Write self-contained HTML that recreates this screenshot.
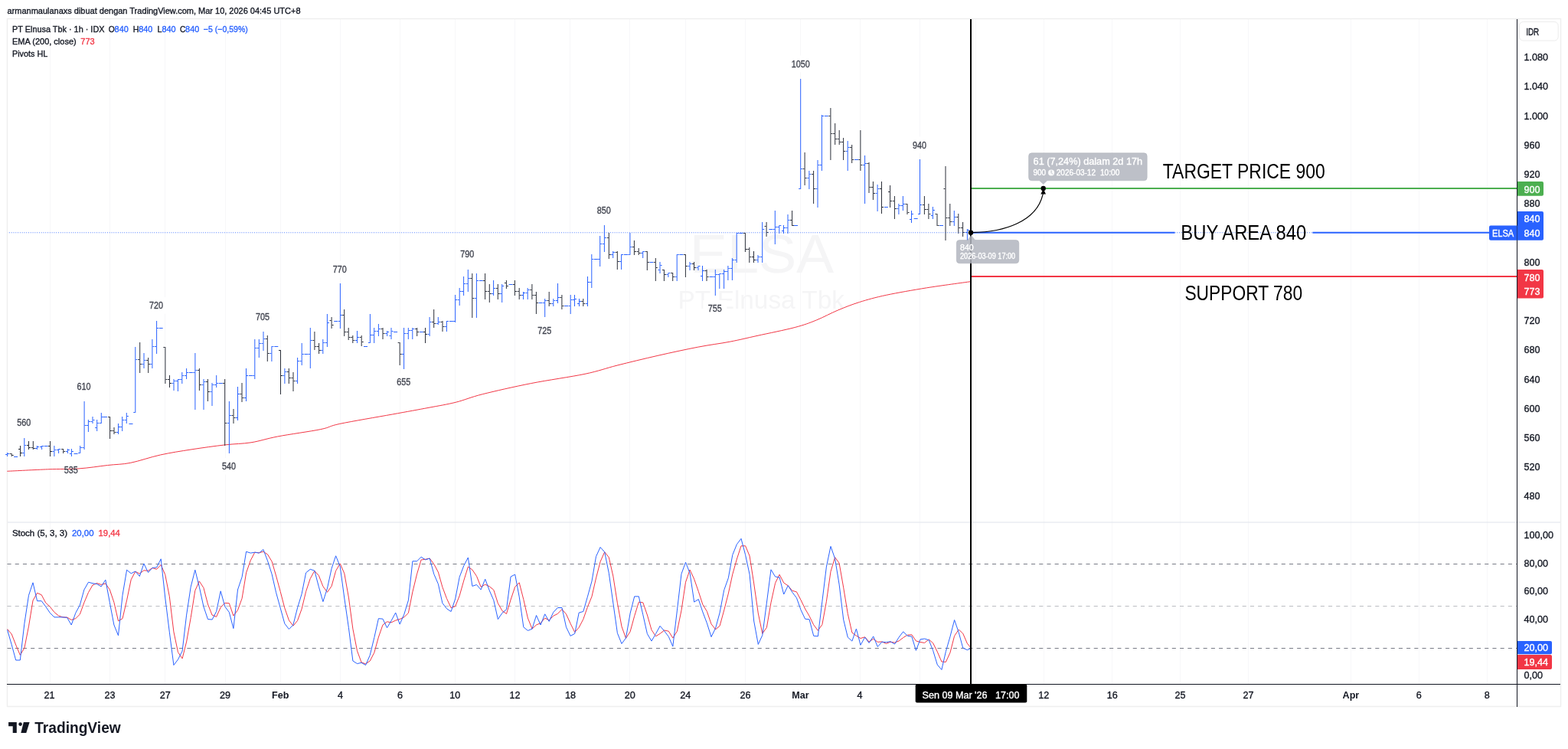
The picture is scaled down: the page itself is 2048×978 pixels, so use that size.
<!DOCTYPE html><html><head><meta charset="utf-8"><title>ELSA chart</title><style>
html,body{margin:0;padding:0;background:#fff;}body{width:2048px;height:978px;overflow:hidden;}svg{display:block;}
text{font-family:"Liberation Sans", Arial, sans-serif;}
.b{stroke-width:0.35px;paint-order:stroke;}
</style></head><body>
<svg width="2048" height="978" viewBox="0 0 2048 978">
<rect x="0" y="0" width="2048" height="978" fill="#ffffff"/>
<path d="M65.5 25V893 M143.5 25V893 M215.5 25V893 M294.5 25V893 M366.5 25V893 M444.5 25V893 M522.5 25V893 M594.5 25V893 M672.5 25V893 M744.5 25V893 M822.5 25V893 M895.5 25V893 M973.5 25V893 M1045.5 25V893 M1123.5 25V893 M1201.5 25V893 M1274.5 25V893 M1363.5 25V893 M1452.5 25V893 M1541.5 25V893 M1630.5 25V893 M1764.5 25V893 M1853.5 25V893 M1942.5 25V893" stroke="#f7f7f9" stroke-width="1" fill="none" shape-rendering="crispEdges"/>
<text x="900.8" y="355.5" font-size="70.7" fill="#f5f5f6" textLength="188.5" lengthAdjust="spacingAndGlyphs">ELSA</text>
<text x="885.4" y="402.5" font-size="32.7" fill="#f5f5f6" textLength="217.5" lengthAdjust="spacingAndGlyphs">PT Elnusa Tbk</text>
<rect x="15.8" y="541.0" width="31.0" height="21.8" fill="#fff"/>
<rect x="77.3" y="602.9" width="31.0" height="21.8" fill="#fff"/>
<rect x="93.9" y="493.8" width="31.0" height="21.8" fill="#fff"/>
<rect x="188.5" y="387.9" width="31.0" height="21.8" fill="#fff"/>
<rect x="283.5" y="597.9" width="31.0" height="21.8" fill="#fff"/>
<rect x="327.6" y="402.9" width="31.0" height="21.8" fill="#fff"/>
<rect x="428.3" y="340.7" width="31.0" height="21.8" fill="#fff"/>
<rect x="511.7" y="487.5" width="31.0" height="21.8" fill="#fff"/>
<rect x="594.8" y="321.0" width="31.0" height="21.8" fill="#fff"/>
<rect x="695.7" y="420.5" width="31.0" height="21.8" fill="#fff"/>
<rect x="773.2" y="263.7" width="31.0" height="21.8" fill="#fff"/>
<rect x="918.3" y="392.0" width="31.0" height="21.8" fill="#fff"/>
<rect x="1027.2" y="72.5" width="37.0" height="21.8" fill="#fff"/>
<rect x="1185.6" y="178.4" width="31.0" height="21.8" fill="#fff"/>
<path d="M9 24.5H2039M9.5 24V923M2038.5 24V923M9 922.5H2039" stroke="#efefef" stroke-width="1.5" fill="none"/>
<path d="M10 682H2038" stroke="#e0e3eb" stroke-width="1.2" fill="none"/>
<path d="M9.5 736.5H1981M9.5 846.5H1981" stroke="#787B86" stroke-width="1" stroke-dasharray="5.1,5.11" fill="none"/>
<path d="M9.5 791.5H1981" stroke="#787B86" stroke-opacity="0.5" stroke-width="1" stroke-dasharray="5.1,5.11" fill="none"/>
<path d="M9.4 615.3C18.2 614.9 46.9 613.4 62.5 612.8C78.1 612.2 90.0 612.8 103.0 611.9C116.0 611.0 129.4 608.8 140.6 607.5C151.8 606.2 158.8 606.6 170.3 604.4C181.8 602.1 196.1 596.9 209.4 594.0C222.7 591.1 235.9 589.1 250.0 586.9C264.1 584.7 280.8 582.4 293.8 580.9C306.8 579.4 316.6 579.6 328.0 577.8C339.4 576.0 347.4 572.9 362.5 570.0C377.6 567.1 405.2 563.4 418.8 560.6C432.4 557.8 428.2 556.7 443.8 553.4C459.4 550.1 493.1 544.5 512.5 541.0C531.9 537.5 546.2 534.9 560.0 532.3C573.8 529.7 583.5 528.2 595.2 525.3C606.9 522.4 613.9 518.8 630.3 514.7C646.7 510.6 671.3 505.0 693.6 500.6C715.9 496.2 745.3 492.2 764.0 488.3C782.7 484.4 790.2 481.1 806.0 477.1C821.8 473.1 841.3 468.4 858.9 464.4C876.5 460.4 895.8 456.2 911.6 453.2C927.4 450.1 940.9 448.6 953.8 446.1C966.7 443.6 974.9 441.5 989.0 438.4C1003.1 435.3 1025.3 430.9 1038.2 427.5C1051.1 424.1 1056.9 421.8 1066.3 418.0C1075.7 414.2 1085.1 408.9 1094.5 405.0C1103.9 401.1 1112.1 397.8 1122.6 394.5C1133.1 391.2 1143.0 388.4 1157.7 385.3C1172.4 382.2 1192.1 378.8 1210.5 375.8C1228.9 372.9 1258.4 369.0 1268.0 367.6" stroke="#F23645" stroke-width="1" fill="none"/>
<path d="M15.2 592V596 M12.7 592.5H14.7 M15.7 594.5H17.7 M26.5 582V596 M24.0 586.5H26.0 M27.0 591.5H29.0 M37.5 576V587 M35.0 581.5H37.0 M38.0 584.5H40.0 M43.3 576V587 M40.8 584.5H42.8 M43.8 585.5H45.8 M65.5 576V596 M63.0 582.5H65.0 M66.0 589.5H68.0 M82.7 586V592 M80.2 586.5H82.2 M83.2 589.5H85.2 M143.6 544V573 M141.1 544.5H143.1 M144.1 562.5H146.1 M149.0 558V567 M146.5 562.5H148.5 M149.5 564.5H151.5 M182.7 447V487 M180.2 469.5H182.2 M183.2 475.5H185.2 M193.7 467V487 M191.2 470.5H193.2 M194.2 475.5H196.2 M215.9 453V501 M213.4 453.5H215.4 M216.4 495.5H218.4 M221.5 490V506 M219.0 495.5H221.0 M222.0 500.5H224.0 M260.4 481V510 M257.9 483.5H259.9 M260.9 502.5H262.9 M271.4 495V524 M268.9 498.5H270.9 M271.9 511.5H273.9 M293.7 495V582 M291.2 500.5H293.2 M294.2 552.5H296.2 M305.0 534V553 M302.5 542.5H304.5 M305.5 545.5H307.5 M316.0 500V525 M313.5 514.5H315.5 M316.5 519.5H318.5 M349.3 438V472 M346.8 442.5H348.8 M349.8 461.5H351.8 M366.5 457V515 M364.0 457.5H366.0 M367.0 490.5H369.0 M377.3 481V501 M374.8 485.5H376.8 M377.8 493.5H379.8 M383.0 486V511 M380.5 493.5H382.5 M383.5 497.5H385.5 M410.9 433V457 M408.4 444.5H410.4 M411.4 452.5H413.4 M416.6 448V462 M414.1 452.5H416.1 M417.1 457.5H419.1 M433.1 414V429 M430.6 418.5H432.6 M433.6 424.5H435.6 M449.7 404V439 M447.2 411.5H449.2 M450.2 433.5H452.2 M455.2 428V444 M452.7 433.5H454.7 M455.7 440.5H457.7 M460.8 438V448 M458.3 440.5H460.3 M461.3 444.5H463.3 M472.2 438V452 M469.7 440.5H471.7 M472.7 446.5H474.7 M500.0 428V443 M497.5 429.5H499.5 M500.5 435.5H502.5 M522.2 447V477 M519.7 447.5H521.7 M522.7 462.5H524.7 M544.7 428V439 M542.2 429.5H544.2 M545.2 433.5H547.2 M555.5 428V448 M553.0 433.5H555.0 M556.0 436.5H558.0 M566.7 404V428 M564.2 420.5H566.2 M567.2 422.5H569.2 M578.0 419V433 M575.5 420.5H577.5 M578.5 426.5H580.5 M616.8 357V415 M614.3 363.5H616.3 M617.3 389.5H619.3 M633.6 357V391 M631.1 366.5H633.1 M634.1 380.5H636.1 M639.3 371V395 M636.8 380.5H638.8 M639.8 383.5H641.8 M650.3 371V391 M647.8 376.5H649.8 M650.8 383.5H652.8 M661.4 366V377 M658.9 369.5H660.9 M661.9 373.5H663.9 M672.4 366V386 M669.9 371.5H671.9 M672.9 380.5H674.9 M678.2 376V391 M675.7 380.5H677.7 M678.7 385.5H680.7 M694.9 371V391 M692.4 378.5H694.4 M695.4 385.5H697.4 M700.4 381V410 M697.9 385.5H699.9 M700.9 395.5H702.9 M717.2 381V400 M714.7 392.5H716.7 M717.7 396.5H719.7 M733.9 385V404 M731.4 388.5H733.4 M734.4 399.5H736.4 M761.8 390V400 M759.3 393.5H761.3 M762.3 396.5H764.3 M795.3 304V338 M792.8 310.5H794.8 M795.8 332.5H797.8 M806.3 328V352 M803.8 329.5H805.8 M806.8 341.5H808.8 M828.4 314V333 M825.9 322.5H827.9 M828.9 328.5H830.9 M834.2 324V333 M831.7 328.5H833.7 M834.7 330.5H836.7 M845.3 328V353 M842.8 328.5H844.8 M845.8 342.5H847.8 M856.3 337V367 M853.8 342.5H855.8 M856.8 349.5H858.8 M867.4 352V367 M864.9 352.5H866.9 M867.9 358.5H869.9 M878.7 356V367 M876.2 356.5H878.2 M879.2 361.5H881.2 M895.4 332V362 M892.9 332.5H894.9 M895.9 347.5H897.9 M906.5 342V353 M904.0 344.5H906.0 M907.0 349.5H909.0 M923.0 352V367 M920.5 353.5H922.5 M923.5 361.5H925.5 M973.4 304V329 M970.9 304.5H972.9 M973.9 325.5H975.9 M978.8 323V343 M976.3 325.5H978.3 M979.3 335.5H981.3 M984.5 328V343 M982.0 335.5H984.0 M985.0 339.5H987.0 M1001.1 290V309 M998.6 295.5H1000.6 M1001.6 303.5H1003.6 M1034.6 275V295 M1032.1 287.5H1034.1 M1035.1 294.5H1037.1 M1051.1 199V242 M1048.6 220.5H1050.6 M1051.6 232.5H1053.6 M1062.6 223V266 M1060.1 227.5H1062.1 M1063.1 246.5H1065.1 M1084.9 141V209 M1082.4 151.5H1084.4 M1085.4 174.5H1087.4 M1090.7 161V189 M1088.2 174.5H1090.2 M1091.2 181.5H1093.2 M1096.2 170V189 M1093.7 181.5H1095.7 M1096.7 185.5H1098.7 M1101.6 180V209 M1099.1 185.5H1101.1 M1102.1 197.5H1104.1 M1112.7 189V213 M1110.2 192.5H1112.2 M1113.2 208.5H1115.2 M1123.9 170V223 M1121.4 208.5H1123.4 M1124.4 215.5H1126.4 M1135.0 212V252 M1132.5 213.5H1134.5 M1135.5 244.5H1137.5 M1140.4 237V261 M1137.9 244.5H1139.9 M1140.9 252.5H1142.9 M1151.5 237V279 M1149.0 246.5H1151.0 M1152.0 270.5H1154.0 M1162.6 242V271 M1160.1 250.5H1162.1 M1163.1 262.5H1165.1 M1168.4 256V286 M1165.9 262.5H1167.9 M1168.9 272.5H1170.9 M1185.0 266V280 M1182.5 266.5H1184.5 M1185.5 277.5H1187.5 M1207.4 256V280 M1204.9 267.5H1206.9 M1207.9 273.5H1209.9 M1212.9 266V286 M1210.4 273.5H1212.4 M1213.4 279.5H1215.4 M1224.0 279V295 M1221.5 279.5H1223.5 M1224.5 294.5H1226.5 M1235.0 217V314 M1232.5 246.5H1234.5 M1235.5 284.5H1237.5 M1240.8 266V295 M1238.3 284.5H1240.3 M1241.3 289.5H1243.3 M1251.8 279V305 M1249.3 283.5H1251.3 M1252.3 297.5H1254.3 M1257.6 290V309 M1255.1 297.5H1257.1 M1258.1 303.5H1260.1" stroke="#2a2e39" stroke-width="1" fill="none"/>
<path d="M9.6 591V596 M7.1 593.5H9.1 M10.1 592.5H12.1 M18.1 596.5H23.1 M31.8 572V596 M29.3 591.5H31.3 M32.3 581.5H34.3 M48.4 582V587 M45.9 585.5H47.9 M48.9 583.5H50.9 M54.6 582V587 M52.1 583.5H54.1 M55.1 582.5H57.1 M57.7 582.5H62.7 M70.9 582V596 M68.4 589.5H70.4 M71.4 587.5H73.4 M76.6 586V592 M74.1 587.5H76.1 M77.1 586.5H79.1 M88.4 586V592 M85.9 589.5H87.9 M88.9 587.5H90.9 M93.4 586V596 M90.9 592.5H92.9 M93.9 589.5H95.9 M96.5 592.5H101.5 M104.7 582V592 M102.2 591.5H104.2 M105.2 584.5H107.2 M110.1 524V587 M107.6 584.5H109.6 M110.6 555.5H112.6 M115.4 548V564 M112.9 555.5H114.9 M115.9 550.5H117.9 M121.0 544V553 M118.5 550.5H120.5 M121.5 548.5H123.5 M126.7 548V563 M124.2 558.5H126.2 M127.2 552.5H129.2 M132.3 539V553 M129.8 552.5H131.8 M132.8 544.5H134.8 M135.0 544.5H140.0 M154.5 553V567 M152.0 564.5H154.0 M155.0 557.5H157.0 M159.7 544V563 M157.2 557.5H159.2 M160.2 548.5H162.2 M165.3 539V553 M162.8 548.5H164.8 M165.8 543.5H167.8 M168.5 553.5H173.5 M176.8 453V539 M174.3 538.5H176.3 M177.3 469.5H179.3 M188.0 461V481 M185.5 475.5H187.5 M188.5 470.5H190.5 M198.9 443V481 M196.4 475.5H198.4 M199.4 452.5H201.4 M204.6 419V462 M202.1 452.5H204.1 M205.1 428.5H207.1 M207.7 428.5H212.7 M227.0 495V510 M224.5 500.5H226.5 M227.5 497.5H229.5 M232.4 495V511 M229.9 497.5H231.9 M232.9 495.5H234.9 M237.8 486V501 M235.3 495.5H237.3 M238.3 490.5H240.3 M243.6 481V495 M241.1 490.5H243.1 M244.1 486.5H246.1 M246.8 486.5H251.8 M254.9 461V535 M252.4 486.5H254.4 M255.4 483.5H257.4 M266.0 495V535 M263.5 502.5H265.5 M266.5 498.5H268.5 M277.0 500V530 M274.5 511.5H276.5 M277.5 502.5H279.5 M282.7 490V506 M280.2 502.5H282.2 M283.2 500.5H285.2 M285.8 500.5H290.8 M299.4 524V592 M296.9 552.5H298.9 M299.9 542.5H301.9 M310.5 505V549 M308.0 545.5H310.0 M311.0 514.5H313.0 M321.5 481V524 M319.0 519.5H321.0 M322.0 490.5H324.0 M324.9 490.5H329.9 M332.8 443V495 M330.3 490.5H332.3 M333.3 454.5H335.3 M338.3 443V467 M335.8 454.5H337.8 M338.8 448.5H340.8 M344.0 433V458 M341.5 448.5H343.5 M344.5 442.5H346.5 M354.9 452V472 M352.4 461.5H354.4 M355.4 452.5H357.4 M358.3 452.5H363.3 M371.9 481V501 M369.4 490.5H371.4 M372.4 485.5H374.4 M388.6 467V501 M386.1 497.5H388.1 M389.1 471.5H391.1 M394.2 448V477 M391.7 471.5H393.7 M394.7 462.5H396.7 M397.5 462.5H402.5 M405.3 428V481 M402.8 462.5H404.8 M405.8 444.5H407.8 M421.8 443V462 M419.3 457.5H421.3 M422.3 447.5H424.3 M427.4 410V453 M424.9 447.5H426.9 M427.9 421.5H429.9 M436.2 419.5H441.2 M444.4 370V429 M441.9 419.5H443.9 M444.9 411.5H446.9 M466.5 432V448 M464.0 444.5H466.0 M467.0 440.5H469.0 M475.0 452.5H480.0 M483.4 410V448 M480.9 447.5H482.9 M483.9 437.5H485.9 M488.7 428V448 M486.2 437.5H488.2 M489.2 432.5H491.2 M494.4 423V439 M491.9 432.5H493.9 M494.9 429.5H496.9 M505.7 432V439 M503.2 435.5H505.2 M506.2 433.5H508.2 M511.0 428V443 M508.5 438.5H510.5 M511.5 432.5H513.5 M514.1 433.5H519.1 M527.6 428V482 M525.1 462.5H527.1 M528.1 435.5H530.1 M533.3 428V443 M530.8 435.5H532.8 M533.8 431.5H535.8 M538.8 428V443 M536.3 431.5H538.3 M539.3 429.5H541.3 M547.9 433.5H552.9 M561.1 414V439 M558.6 436.5H560.6 M561.6 420.5H563.6 M572.3 414V424 M569.8 422.5H571.8 M572.8 420.5H574.8 M583.4 419V433 M580.9 426.5H582.9 M583.9 419.5H585.9 M586.9 419.5H591.9 M594.6 385V421 M592.1 419.5H594.1 M595.1 391.5H597.1 M600.2 376V399 M597.7 391.5H599.7 M600.7 380.5H602.7 M605.6 361V386 M603.1 380.5H605.1 M606.1 370.5H608.1 M611.3 352V381 M608.8 370.5H610.8 M611.8 363.5H613.8 M622.4 357V415 M619.9 389.5H621.9 M622.9 366.5H624.9 M625.8 366.5H630.8 M644.6 366V386 M642.1 383.5H644.1 M645.1 376.5H647.1 M655.7 371V395 M653.2 383.5H655.2 M656.2 373.5H658.2 M664.6 371.5H669.6 M683.5 381V391 M681.0 385.5H683.0 M684.0 382.5H686.0 M689.2 376V391 M686.7 382.5H688.7 M689.7 378.5H691.7 M703.5 395.5H708.5 M711.7 390V414 M709.2 395.5H711.2 M712.2 392.5H714.2 M722.8 390V400 M720.3 396.5H722.3 M723.3 392.5H725.3 M728.5 370V396 M726.0 392.5H728.0 M729.0 388.5H731.0 M737.1 399.5H742.1 M745.2 385V410 M742.7 399.5H744.7 M745.7 391.5H747.7 M750.5 385V400 M748.0 391.5H750.0 M751.0 390.5H753.0 M756.5 390V400 M754.0 396.5H756.0 M757.0 393.5H759.0 M767.5 361V400 M765.0 396.5H767.0 M768.0 368.5H770.0 M772.8 332V376 M770.3 368.5H772.3 M773.3 338.5H775.3 M775.9 338.5H780.9 M783.7 308V348 M781.2 338.5H783.2 M784.2 318.5H786.2 M789.4 294V329 M786.9 318.5H788.9 M789.9 310.5H791.9 M800.7 328V337 M798.2 332.5H800.2 M801.2 329.5H803.2 M811.6 332V352 M809.1 341.5H811.1 M812.1 332.5H814.1 M814.9 332.5H819.9 M822.9 304V333 M820.4 332.5H822.4 M823.4 322.5H825.4 M839.7 328V337 M837.2 330.5H839.2 M840.2 328.5H842.2 M848.3 342.5H853.3 M862.0 342V357 M859.5 352.5H861.5 M862.5 346.5H864.5 M872.9 356V362 M870.4 358.5H872.4 M873.4 356.5H875.4 M884.2 332V367 M881.7 361.5H883.7 M884.7 332.5H886.7 M887.4 332.5H892.4 M901.0 342V353 M898.5 347.5H900.5 M901.5 344.5H903.5 M912.0 347V353 M909.5 349.5H911.5 M912.5 347.5H914.5 M917.5 347V367 M915.0 360.5H917.0 M918.0 353.5H920.0 M926.5 361.5H931.5 M934.3 352V386 M931.8 361.5H933.8 M934.8 358.5H936.8 M939.8 357V377 M937.3 358.5H939.3 M940.3 357.5H942.3 M945.6 352V377 M943.1 357.5H945.1 M946.1 354.5H948.1 M950.9 347V366 M948.4 354.5H950.4 M951.4 350.5H953.4 M956.4 337V366 M953.9 350.5H955.9 M956.9 339.5H958.9 M962.2 304V343 M959.7 339.5H961.7 M962.7 304.5H964.7 M965.4 304.5H970.4 M990.0 333V343 M987.5 339.5H989.5 M990.5 335.5H992.5 M995.7 290V343 M993.2 335.5H995.2 M996.2 299.5H998.2 M1004.4 299.5H1009.4 M1012.3 275V319 M1009.8 299.5H1011.8 M1012.8 296.5H1014.8 M1017.8 294V305 M1015.3 296.5H1017.3 M1018.3 294.5H1020.3 M1023.5 294V305 M1021.0 301.5H1023.0 M1024.0 297.5H1026.0 M1029.0 280V305 M1026.5 297.5H1028.5 M1029.5 287.5H1031.5 M1037.0 294.5H1042.0 M1045.7 103V247 M1043.2 246.5H1045.2 M1046.2 220.5H1048.2 M1056.9 223V247 M1054.4 232.5H1056.4 M1057.4 227.5H1059.4 M1068.0 209V271 M1065.5 246.5H1067.5 M1068.5 215.5H1070.5 M1073.4 150V223 M1070.9 215.5H1072.9 M1073.9 151.5H1075.9 M1076.8 151.5H1081.8 M1107.2 184V223 M1104.7 197.5H1106.7 M1107.7 192.5H1109.7 M1116.0 208.5H1121.0 M1129.6 203V266 M1127.1 215.5H1129.1 M1130.1 213.5H1132.1 M1146.1 241V276 M1143.6 252.5H1145.6 M1146.6 246.5H1148.6 M1154.9 270.5H1159.9 M1173.9 266V280 M1171.4 272.5H1173.4 M1174.4 268.5H1176.4 M1179.4 256V275 M1176.9 268.5H1178.9 M1179.9 266.5H1181.9 M1190.5 275V291 M1188.0 286.5H1190.0 M1191.0 279.5H1193.0 M1193.7 285.5H1198.7 M1201.5 208V280 M1199.0 279.5H1201.0 M1202.0 267.5H1204.0 M1218.4 270V286 M1215.9 281.5H1217.9 M1218.9 274.5H1220.9 M1227.0 294.5H1232.0 M1246.3 275V295 M1243.8 289.5H1245.8 M1246.8 283.5H1248.8 M1263.4 299V314 M1260.9 303.5H1262.9 M1263.9 300.5H1265.9" stroke="#2962FF" stroke-width="1" fill="none"/>
<path d="M10 303.75H1268" stroke="#2962FF" stroke-width="1" stroke-dasharray="1,1.784" stroke-dashoffset="0.844" stroke-opacity="0.8" fill="none"/>
<polyline points="9.6,821.5 15.2,828.0 20.7,842.1 26.3,855.3 31.9,846.1 37.5,817.8 43.0,784.1 48.6,774.3 54.2,776.7 59.7,787.1 65.3,792.3 70.9,799.4 76.5,804.0 82.0,805.9 87.6,806.1 93.2,809.4 98.8,807.6 104.3,802.2 109.9,786.8 115.5,773.5 121.0,764.0 126.6,761.5 132.2,763.4 137.8,761.9 143.3,769.8 148.9,786.5 154.5,810.8 160.0,807.7 165.6,783.8 171.2,756.8 176.8,746.3 182.3,749.1 187.9,744.8 193.5,745.3 199.0,741.6 204.6,743.3 210.2,737.4 215.8,750.6 221.3,778.7 226.9,824.9 232.5,851.6 238.1,859.9 243.6,838.1 249.2,806.5 254.8,771.2 260.3,758.9 265.9,767.5 271.5,789.0 277.1,803.2 282.6,805.4 288.2,793.1 293.8,787.4 299.3,787.7 304.9,804.0 310.5,796.7 316.1,781.3 321.6,747.9 327.2,731.9 332.8,721.2 338.3,721.8 343.9,720.3 349.5,723.9 355.1,733.1 360.6,751.9 366.2,772.4 371.8,793.9 377.4,809.9 382.9,817.2 388.5,810.5 394.1,795.1 399.6,772.4 405.2,755.6 410.8,745.4 416.4,751.6 421.9,765.7 427.5,773.3 433.1,765.3 438.6,745.4 444.2,735.9 449.8,748.8 455.4,780.1 460.9,821.2 466.5,849.8 472.1,865.0 477.6,866.8 483.2,863.1 488.8,852.2 494.4,832.0 499.9,816.1 505.5,811.8 511.1,812.8 516.7,810.1 522.2,808.5 527.8,805.8 533.4,800.4 538.9,772.9 544.5,749.8 550.1,731.0 555.7,730.3 561.2,729.1 566.8,736.6 572.4,747.1 577.9,766.6 583.5,781.6 589.1,793.6 594.7,791.7 600.2,777.9 605.8,758.0 611.4,740.0 616.9,744.0 622.5,752.3 628.1,766.3 633.7,763.2 639.2,765.7 644.8,770.3 650.4,787.8 656.0,797.6 661.5,801.5 667.1,783.0 672.7,766.3 678.2,760.8 683.8,782.7 689.4,807.1 695.0,821.1 700.5,816.0 706.1,813.6 711.7,807.1 717.2,809.7 722.8,804.2 728.4,801.4 734.0,795.5 739.5,801.9 745.1,814.2 750.7,825.5 756.2,819.3 761.8,808.6 767.4,792.6 773.0,778.9 778.5,754.9 784.1,733.4 789.7,720.7 795.3,727.9 800.8,752.1 806.4,787.4 812.0,818.1 817.5,833.4 823.1,824.8 828.7,804.3 834.3,786.2 839.8,786.8 845.4,803.0 851.0,822.5 856.5,830.8 862.1,827.4 867.7,823.0 873.3,824.2 878.8,833.1 884.4,824.2 890.0,796.9 895.5,760.2 901.1,744.0 906.7,756.2 912.3,772.3 917.8,789.2 923.4,798.4 929.0,814.8 934.6,821.9 940.1,817.3 945.7,796.9 951.3,775.1 956.8,749.9 962.4,730.0 968.0,712.8 973.6,712.8 979.1,726.0 984.7,761.9 990.3,800.9 995.8,827.3 1001.4,819.3 1007.0,786.8 1012.6,761.3 1018.1,750.2 1023.7,761.0 1029.3,764.8 1034.8,771.3 1040.4,772.8 1046.0,783.4 1051.6,795.0 1057.1,804.4 1062.7,815.8 1068.3,823.3 1073.9,815.5 1079.4,785.4 1085.0,746.2 1090.6,727.7 1096.1,735.3 1101.7,767.2 1107.3,801.4 1112.9,826.1 1118.4,830.1 1124.0,833.5 1129.6,831.8 1135.1,838.0 1140.7,834.2 1146.3,838.3 1151.9,837.9 1157.4,840.4 1163.0,838.2 1168.6,839.1 1174.1,836.9 1179.7,832.6 1185.3,829.1 1190.9,828.8 1196.4,836.9 1202.0,838.5 1207.6,839.4 1213.2,834.9 1218.7,839.8 1224.3,851.1 1229.9,864.0 1235.4,864.4 1241.0,852.1 1246.6,830.4 1252.2,822.1 1257.7,827.1 1263.3,840.1 1268.9,847.0" stroke="#F23645" stroke-width="1" fill="none" stroke-linejoin="round"/>
<polyline points="9.6,822.4 15.2,841.8 20.7,862.0 26.3,862.0 31.9,814.2 37.5,777.3 43.0,760.8 48.6,784.7 54.2,784.7 59.7,792.0 65.3,800.3 70.9,805.9 76.5,805.9 82.0,805.9 87.6,806.4 93.2,816.0 98.8,800.3 104.3,790.2 109.9,770.0 115.5,760.2 121.0,761.7 126.6,762.6 132.2,765.9 137.8,757.1 143.3,786.5 148.9,816.0 154.5,829.8 160.0,777.3 165.6,744.2 171.2,748.8 176.8,746.0 182.3,752.5 187.9,735.9 193.5,747.5 199.0,741.4 204.6,740.9 210.2,729.8 215.8,781.0 221.3,825.2 226.9,868.5 232.5,861.1 238.1,850.1 243.6,803.1 249.2,766.3 254.8,744.2 260.3,766.3 265.9,792.0 271.5,808.6 277.1,809.0 282.6,798.5 288.2,771.8 293.8,792.0 299.3,799.4 304.9,820.6 310.5,770.0 316.1,753.4 321.6,720.3 327.2,722.1 332.8,721.2 338.3,722.1 343.9,717.5 349.5,732.2 355.1,749.7 360.6,773.7 366.2,793.9 371.8,814.2 377.4,821.5 382.9,816.0 388.5,793.9 394.1,775.5 399.6,747.9 405.2,743.3 410.8,745.1 416.4,766.3 421.9,785.6 427.5,768.1 433.1,742.3 438.6,725.8 444.2,739.6 449.8,781.0 455.4,819.7 460.9,863.0 466.5,866.6 472.1,865.3 477.6,868.5 483.2,855.6 488.8,832.6 494.4,807.7 499.9,808.1 505.5,819.7 511.1,810.5 516.7,800.0 522.2,815.1 527.8,802.2 533.4,783.8 538.9,732.8 544.5,732.8 550.1,727.3 555.7,730.9 561.2,729.1 566.8,749.7 572.4,762.6 577.9,787.5 583.5,794.8 589.1,798.5 594.7,781.9 600.2,753.4 605.8,738.7 611.4,728.0 616.9,765.4 622.5,763.5 628.1,770.0 633.7,756.2 639.2,770.9 644.8,783.8 650.4,808.6 656.0,800.3 661.5,795.7 667.1,753.0 672.7,750.1 678.2,779.2 683.8,818.8 689.4,823.4 695.0,821.2 700.5,803.5 706.1,816.0 711.7,801.8 717.2,811.4 722.8,799.4 728.4,793.5 734.0,793.5 739.5,818.8 745.1,830.4 750.7,827.4 756.2,800.0 761.8,798.5 767.4,779.2 773.0,758.9 778.5,726.7 784.1,714.5 789.7,720.8 795.3,748.4 800.8,787.1 806.4,826.7 812.0,840.5 817.5,833.1 823.1,800.9 828.7,778.8 834.3,778.8 839.8,802.7 845.4,827.6 851.0,837.1 856.5,827.6 862.1,817.4 867.7,823.9 873.3,831.3 878.8,844.1 884.4,797.2 890.0,749.3 895.5,734.2 901.1,748.4 906.7,786.1 912.3,782.5 917.8,799.0 923.4,813.8 929.0,831.6 934.6,820.2 940.1,800.0 945.7,770.5 951.3,754.8 956.8,724.5 962.4,710.7 968.0,703.3 973.6,724.5 979.1,750.2 984.7,811.0 990.3,841.4 995.8,829.4 1001.4,787.1 1007.0,743.8 1012.6,753.0 1018.1,753.9 1023.7,776.0 1029.3,764.6 1034.8,773.3 1040.4,780.6 1046.0,796.3 1051.6,808.2 1057.1,808.8 1062.7,830.3 1068.3,830.9 1073.9,785.2 1079.4,740.1 1085.0,713.4 1090.6,729.5 1096.1,763.1 1101.7,809.1 1107.3,832.1 1112.9,837.1 1118.4,821.1 1124.0,842.3 1129.6,832.1 1135.1,839.5 1140.7,830.9 1146.3,844.5 1151.9,838.2 1157.4,838.6 1163.0,837.7 1168.6,841.0 1174.1,832.1 1179.7,824.8 1185.3,830.3 1190.9,831.2 1196.4,849.3 1202.0,834.9 1207.6,834.0 1213.2,835.8 1218.7,849.6 1224.3,868.0 1229.9,874.5 1235.4,850.6 1241.0,831.2 1246.6,809.5 1252.2,825.7 1257.7,846.0 1263.3,848.7 1268.9,846.3" stroke="#2962FF" stroke-width="1" fill="none" stroke-linejoin="round"/>
<text x="31.3" y="556.2" font-size="12" fill="#434651" text-anchor="middle" textLength="18.0" lengthAdjust="spacingAndGlyphs" class="b" stroke="#434651">560</text>
<text x="92.8" y="618.1" font-size="12" fill="#434651" text-anchor="middle" textLength="18.0" lengthAdjust="spacingAndGlyphs" class="b" stroke="#434651">535</text>
<text x="109.4" y="509.0" font-size="12" fill="#434651" text-anchor="middle" textLength="18.0" lengthAdjust="spacingAndGlyphs" class="b" stroke="#434651">610</text>
<text x="204.0" y="403.1" font-size="12" fill="#434651" text-anchor="middle" textLength="18.0" lengthAdjust="spacingAndGlyphs" class="b" stroke="#434651">720</text>
<text x="299.0" y="613.1" font-size="12" fill="#434651" text-anchor="middle" textLength="18.0" lengthAdjust="spacingAndGlyphs" class="b" stroke="#434651">540</text>
<text x="343.1" y="418.1" font-size="12" fill="#434651" text-anchor="middle" textLength="18.0" lengthAdjust="spacingAndGlyphs" class="b" stroke="#434651">705</text>
<text x="443.8" y="355.9" font-size="12" fill="#434651" text-anchor="middle" textLength="18.0" lengthAdjust="spacingAndGlyphs" class="b" stroke="#434651">770</text>
<text x="527.2" y="502.7" font-size="12" fill="#434651" text-anchor="middle" textLength="18.0" lengthAdjust="spacingAndGlyphs" class="b" stroke="#434651">655</text>
<text x="610.3" y="336.2" font-size="12" fill="#434651" text-anchor="middle" textLength="18.0" lengthAdjust="spacingAndGlyphs" class="b" stroke="#434651">790</text>
<text x="711.2" y="435.7" font-size="12" fill="#434651" text-anchor="middle" textLength="18.0" lengthAdjust="spacingAndGlyphs" class="b" stroke="#434651">725</text>
<text x="788.7" y="278.9" font-size="12" fill="#434651" text-anchor="middle" textLength="18.0" lengthAdjust="spacingAndGlyphs" class="b" stroke="#434651">850</text>
<text x="933.8" y="407.2" font-size="12" fill="#434651" text-anchor="middle" textLength="18.0" lengthAdjust="spacingAndGlyphs" class="b" stroke="#434651">755</text>
<text x="1045.7" y="87.7" font-size="12" fill="#434651" text-anchor="middle" textLength="24.0" lengthAdjust="spacingAndGlyphs" class="b" stroke="#434651">1050</text>
<text x="1201.1" y="193.6" font-size="12" fill="#434651" text-anchor="middle" textLength="18.0" lengthAdjust="spacingAndGlyphs" class="b" stroke="#434651">940</text>
<path d="M1268 246H1981" stroke="#4CAF50" stroke-width="2" fill="none"/>
<path d="M1268 361H1981" stroke="#F23645" stroke-width="2" fill="none"/>
<path d="M1268 303.7H1534.5M1714.4 303.7H1981" stroke="#2962FF" stroke-width="2" fill="none"/>
<path d="M1534.5 303.75H1714.4" stroke="#2962FF" stroke-width="1" stroke-dasharray="1,1.784" stroke-opacity="0.8" fill="none"/>
<text x="1518.8" y="232.7" font-size="26.8" fill="#000" textLength="212" lengthAdjust="spacingAndGlyphs">TARGET PRICE 900</text>
<text x="1542.3" y="312.5" font-size="26.8" fill="#000" textLength="164" lengthAdjust="spacingAndGlyphs">BUY AREA 840</text>
<text x="1547.4" y="391.9" font-size="26.8" fill="#000" textLength="153.7" lengthAdjust="spacingAndGlyphs">SUPPORT 780</text>
<path d="M1268 25V893" stroke="#000" stroke-width="2" fill="none"/>
<path d="M1268 303.6C1310 303.6 1355 290 1362.5 252" stroke="#000" stroke-width="1.2" fill="none"/>
<path d="M1359.3 253.5L1362.7 246.5L1366 253.5Z" fill="#000"/>
<circle cx="1268" cy="303.7" r="3.2" fill="#000"/><circle cx="1362.7" cy="246" r="3.2" fill="#000"/>
<path d="M1347.6 199.8H1494.2A4 4 0 0 1 1498.2 203.8V231.8A4 4 0 0 1 1494.2 235.8H1367.7L1362.7 240.5L1357.7 235.8H1347.6A4 4 0 0 1 1343.6 231.8V203.8A4 4 0 0 1 1347.6 199.8Z" fill="#b2b5be" fill-opacity="0.85" stroke="#a9acb6" stroke-opacity="0.6" stroke-width="0.8"/>
<path d="M1253.3 313.5H1263.6L1268.6 307.5L1273.6 313.5H1326.8A4 4 0 0 1 1330.8 317.5V339.8A4 4 0 0 1 1326.8 343.8H1253.3A4 4 0 0 1 1249.3 339.8V317.5A4 4 0 0 1 1253.3 313.5Z" fill="#b2b5be" fill-opacity="0.85" stroke="#a9acb6" stroke-opacity="0.6" stroke-width="0.8"/>
<text x="1349.6" y="214.5" font-size="12.5" fill="#fff" textLength="142.5" lengthAdjust="spacingAndGlyphs" class="b" stroke="#fff">61 (7,24%) dalam 2d 17h</text>
<text x="1349.4" y="228.8" font-size="10" fill="#fff" textLength="16.6" lengthAdjust="spacingAndGlyphs" class="b" stroke="#fff">900</text>
<circle cx="1373.1" cy="225.5" r="4.1" fill="#fff" fill-opacity="0.9"/><path d="M1373.1 222.6V225.6L1375 227.5" stroke="#b2b5be" stroke-width="0.9" fill="none"/>
<text x="1379.8" y="228.8" font-size="10" fill="#fff" textLength="51.2" lengthAdjust="spacingAndGlyphs" class="b" stroke="#fff">2026-03-12</text>
<text x="1436.9" y="228.8" font-size="10" fill="#fff" textLength="25.5" lengthAdjust="spacingAndGlyphs" class="b" stroke="#fff">10:00</text>
<text x="1254" y="326.6" font-size="11.5" fill="#fff" textLength="17.8" lengthAdjust="spacingAndGlyphs" class="b" stroke="#fff">840</text>
<text x="1254" y="338.2" font-size="10" fill="#fff" textLength="72.2" lengthAdjust="spacingAndGlyphs" class="b" stroke="#fff">2026-03-09 17:00</text>
<path d="M1981.5 25V923" stroke="#131722" stroke-width="1" fill="none" shape-rendering="crispEdges"/>
<rect x="1984.5" y="28.5" width="50.7" height="24.6" rx="5" fill="#fff" stroke="#ececec" stroke-width="1"/>
<text x="1993.2" y="45.7" font-size="12" fill="#131722" textLength="17" lengthAdjust="spacingAndGlyphs" class="b" stroke="#131722">IDR</text>
<text x="1990.5" y="79.1" font-size="12.6" fill="#131722" class="b" stroke="#131722">1.080</text>
<text x="1990.5" y="117.3" font-size="12.6" fill="#131722" class="b" stroke="#131722">1.040</text>
<text x="1990.5" y="155.5" font-size="12.6" fill="#131722" class="b" stroke="#131722">1.000</text>
<text x="1990.5" y="193.8" font-size="12.6" fill="#131722" class="b" stroke="#131722">960</text>
<text x="1990.5" y="232.0" font-size="12.6" fill="#131722" class="b" stroke="#131722">920</text>
<text x="1990.5" y="270.2" font-size="12.6" fill="#131722" class="b" stroke="#131722">880</text>
<text x="1990.5" y="346.6" font-size="12.6" fill="#131722" class="b" stroke="#131722">800</text>
<text x="1990.5" y="423.1" font-size="12.6" fill="#131722" class="b" stroke="#131722">720</text>
<text x="1990.5" y="461.3" font-size="12.6" fill="#131722" class="b" stroke="#131722">680</text>
<text x="1990.5" y="499.5" font-size="12.6" fill="#131722" class="b" stroke="#131722">640</text>
<text x="1990.5" y="537.7" font-size="12.6" fill="#131722" class="b" stroke="#131722">600</text>
<text x="1990.5" y="576.0" font-size="12.6" fill="#131722" class="b" stroke="#131722">560</text>
<text x="1990.5" y="614.2" font-size="12.6" fill="#131722" class="b" stroke="#131722">520</text>
<text x="1990.5" y="652.4" font-size="12.6" fill="#131722" class="b" stroke="#131722">480</text>
<path d="M1982 236.9H2014a2 2 0 0 1 2 2V253.8a2 2 0 0 1 -2 2H1982Z" fill="#4CAF50"/>
<text x="1990.5" y="251.5" font-size="12.6" fill="#fff" class="b" stroke="#fff">900</text>
<path d="M1982 276.0H2014a2 2 0 0 1 2 2V311.7a2 2 0 0 1 -2 2H1982Z" fill="#2962FF"/>
<text x="1990.5" y="290.2" font-size="12.6" fill="#fff" class="b" stroke="#fff">840</text>
<text x="1990.5" y="309" font-size="12.6" fill="#fff" class="b" stroke="#fff">840</text>
<path d="M1981.5 294.4H1947a2 2 0 0 0 -2 2V311.7a2 2 0 0 0 2 2H1981.5Z" fill="#2962FF"/>
<text x="1948.9" y="309" font-size="12.6" fill="#fff" textLength="28.4" lengthAdjust="spacingAndGlyphs" class="b" stroke="#fff">ELSA</text>
<path d="M1982 352.0H2014a2 2 0 0 1 2 2V387.5a2 2 0 0 1 -2 2H1982Z" fill="#F23645"/>
<text x="1990.5" y="366.5" font-size="12.6" fill="#fff" class="b" stroke="#fff">780</text>
<text x="1990.5" y="385" font-size="12.6" fill="#fff" class="b" stroke="#fff">773</text>
<text x="1990.5" y="703.0" font-size="12.6" fill="#131722" class="b" stroke="#131722">100,00</text>
<text x="1990.5" y="739.6" font-size="12.6" fill="#131722" class="b" stroke="#131722">80,00</text>
<text x="1990.5" y="776.3" font-size="12.6" fill="#131722" class="b" stroke="#131722">60,00</text>
<text x="1990.5" y="812.9" font-size="12.6" fill="#131722" class="b" stroke="#131722">40,00</text>
<text x="1990.5" y="886.2" font-size="12.6" fill="#131722" class="b" stroke="#131722">0,00</text>
<path d="M1982 836.9H2025a2 2 0 0 1 2 2V852.2a2 2 0 0 1 -2 2H1982Z" fill="#2962FF"/>
<text x="1990.5" y="850.2" font-size="12.6" fill="#fff" class="b" stroke="#fff">20,00</text>
<path d="M1982 855H2025a2 2 0 0 1 2 2V872a2 2 0 0 1 -2 2H1982Z" fill="#F23645"/>
<text x="1990.5" y="869" font-size="12.6" fill="#fff" class="b" stroke="#fff">19,44</text>
<path d="M9 893.5H2038" stroke="#131722" stroke-width="1" fill="none" shape-rendering="crispEdges"/>
<text x="64.5" y="911.8" font-size="12.6" fill="#131722" text-anchor="middle" class="b" stroke="#131722">21</text>
<text x="143.6" y="911.8" font-size="12.6" fill="#131722" text-anchor="middle" class="b" stroke="#131722">23</text>
<text x="215.8" y="911.8" font-size="12.6" fill="#131722" text-anchor="middle" class="b" stroke="#131722">27</text>
<text x="294.0" y="911.8" font-size="12.6" fill="#131722" text-anchor="middle" class="b" stroke="#131722">29</text>
<text x="366.2" y="911.8" font-size="12.6" fill="#131722" text-anchor="middle" font-weight="bold">Feb</text>
<text x="444.5" y="911.8" font-size="12.6" fill="#131722" text-anchor="middle" class="b" stroke="#131722">4</text>
<text x="522.5" y="911.8" font-size="12.6" fill="#131722" text-anchor="middle" class="b" stroke="#131722">6</text>
<text x="594.3" y="911.8" font-size="12.6" fill="#131722" text-anchor="middle" class="b" stroke="#131722">10</text>
<text x="672.5" y="911.8" font-size="12.6" fill="#131722" text-anchor="middle" class="b" stroke="#131722">12</text>
<text x="744.9" y="911.8" font-size="12.6" fill="#131722" text-anchor="middle" class="b" stroke="#131722">18</text>
<text x="822.8" y="911.8" font-size="12.6" fill="#131722" text-anchor="middle" class="b" stroke="#131722">20</text>
<text x="895.2" y="911.8" font-size="12.6" fill="#131722" text-anchor="middle" class="b" stroke="#131722">24</text>
<text x="973.4" y="911.8" font-size="12.6" fill="#131722" text-anchor="middle" class="b" stroke="#131722">26</text>
<text x="1045.4" y="911.8" font-size="12.6" fill="#131722" text-anchor="middle" font-weight="bold">Mar</text>
<text x="1123.0" y="911.8" font-size="12.6" fill="#131722" text-anchor="middle" class="b" stroke="#131722">4</text>
<text x="1363.3" y="911.8" font-size="12.6" fill="#131722" text-anchor="middle" class="b" stroke="#131722">12</text>
<text x="1452.7" y="911.8" font-size="12.6" fill="#131722" text-anchor="middle" class="b" stroke="#131722">16</text>
<text x="1541.5" y="911.8" font-size="12.6" fill="#131722" text-anchor="middle" class="b" stroke="#131722">25</text>
<text x="1630.6" y="911.8" font-size="12.6" fill="#131722" text-anchor="middle" class="b" stroke="#131722">27</text>
<text x="1764.4" y="911.8" font-size="12.6" fill="#131722" text-anchor="middle" font-weight="bold">Apr</text>
<text x="1853.2" y="911.8" font-size="12.6" fill="#131722" text-anchor="middle" class="b" stroke="#131722">6</text>
<text x="1942.3" y="911.8" font-size="12.6" fill="#131722" text-anchor="middle" class="b" stroke="#131722">8</text>
<rect x="1195.7" y="893.2" width="145.6" height="24.3" rx="2" fill="#000"/>
<text x="1204.5" y="911.8" font-size="12.6" fill="#fff" class="b" stroke="#fff">Sen 09 Mar '26</text>
<text x="1300" y="911.8" font-size="12.6" fill="#fff" class="b" stroke="#fff">17:00</text>
<text x="9.5" y="17.6" font-size="11.5" fill="#131722" textLength="383" lengthAdjust="spacingAndGlyphs" class="b" stroke="#131722">armanmaulanaxs dibuat dengan TradingView.com, Mar 10, 2026 04:45 UTC+8</text>
<text x="16.0" y="42.4" font-size="11.5" fill="#131722" textLength="120.5" lengthAdjust="spacingAndGlyphs" class="b" stroke="#131722">PT Elnusa Tbk · 1h · IDX</text>
<text x="141.8" y="42.4" font-size="11.5" fill="#131722" textLength="8.0" lengthAdjust="spacingAndGlyphs" class="b" stroke="#131722">O</text>
<text x="149.6" y="42.4" font-size="11.5" fill="#2962FF" textLength="18.1" lengthAdjust="spacingAndGlyphs" class="b" stroke="#2962FF">840</text>
<text x="173.7" y="42.4" font-size="11.5" fill="#131722" textLength="7.7" lengthAdjust="spacingAndGlyphs" class="b" stroke="#131722">H</text>
<text x="181.2" y="42.4" font-size="11.5" fill="#2962FF" textLength="18.1" lengthAdjust="spacingAndGlyphs" class="b" stroke="#2962FF">840</text>
<text x="205.6" y="42.4" font-size="11.5" fill="#131722" textLength="6.0" lengthAdjust="spacingAndGlyphs" class="b" stroke="#131722">L</text>
<text x="211.4" y="42.4" font-size="11.5" fill="#2962FF" textLength="18.1" lengthAdjust="spacingAndGlyphs" class="b" stroke="#2962FF">840</text>
<text x="235.1" y="42.4" font-size="11.5" fill="#131722" textLength="7.3" lengthAdjust="spacingAndGlyphs" class="b" stroke="#131722">C</text>
<text x="242.1" y="42.4" font-size="11.5" fill="#2962FF" textLength="18.1" lengthAdjust="spacingAndGlyphs" class="b" stroke="#2962FF">840</text>
<text x="265.8" y="42.4" font-size="11.5" fill="#2962FF" textLength="58.0" lengthAdjust="spacingAndGlyphs" class="b" stroke="#2962FF">−5 (−0,59%)</text>
<text x="16.0" y="58.2" font-size="11.5" fill="#131722" textLength="83.7" lengthAdjust="spacingAndGlyphs" class="b" stroke="#131722">EMA (200, close)</text>
<text x="105.3" y="58.2" font-size="11.5" fill="#F23645" textLength="18.3" lengthAdjust="spacingAndGlyphs" class="b" stroke="#F23645">773</text>
<text x="16.0" y="74.0" font-size="11.5" fill="#131722" textLength="46.3" lengthAdjust="spacingAndGlyphs" class="b" stroke="#131722">Pivots HL</text>
<text x="15.9" y="699.8" font-size="11.5" fill="#131722" textLength="72.1" lengthAdjust="spacingAndGlyphs" class="b" stroke="#131722">Stoch (5, 3, 3)</text>
<text x="94.0" y="699.8" font-size="11.5" fill="#2962FF" textLength="28.5" lengthAdjust="spacingAndGlyphs" class="b" stroke="#2962FF">20,00</text>
<text x="128.6" y="699.8" font-size="11.5" fill="#F23645" textLength="28.2" lengthAdjust="spacingAndGlyphs" class="b" stroke="#F23645">19,44</text>
<path d="M11.1 943H21.8V956.9H16.7V948.3H11.1Z" fill="#131722"/>
<circle cx="26.6" cy="945.6" r="2.3" fill="#131722"/>
<path d="M30.8 943H38.6L34.3 956.9H27.3Z" fill="#131722"/>
<text x="45.2" y="956.9" font-size="20.3" font-weight="bold" fill="#131722" textLength="112.5" lengthAdjust="spacingAndGlyphs">TradingView</text>
</svg></body></html>
